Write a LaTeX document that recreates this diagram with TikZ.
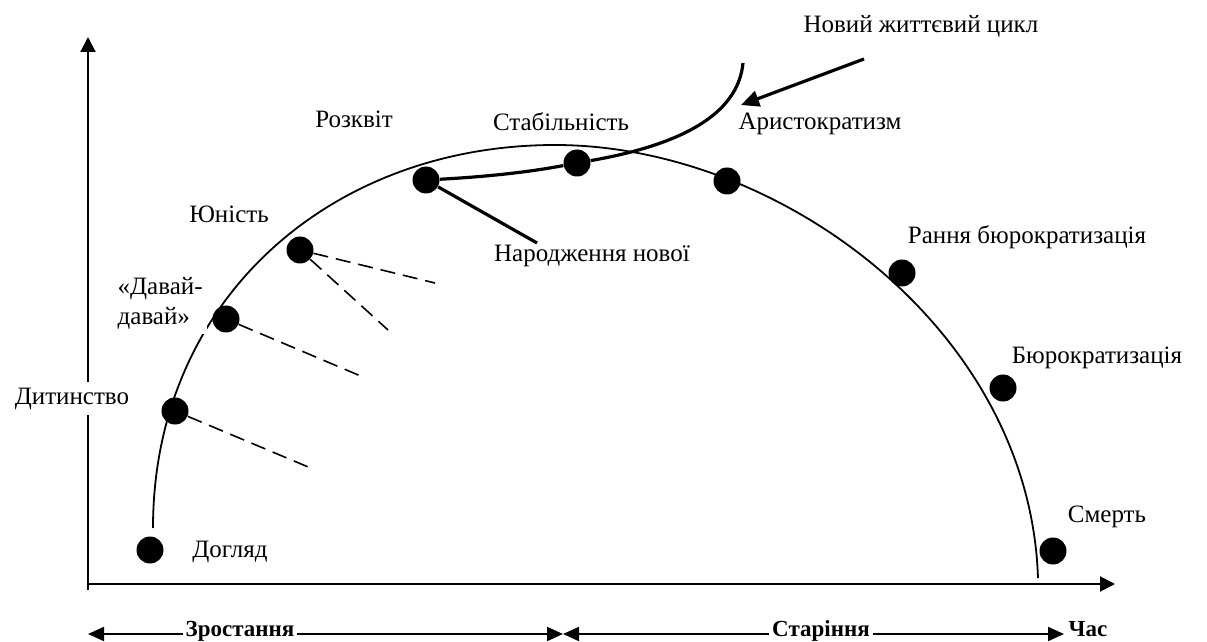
\documentclass[tikz,border=0pt]{standalone}
\usepackage{fontspec}
\setmainfont{Liberation Serif}
\usetikzlibrary{arrows.meta}
\begin{document}
\begin{tikzpicture}[x=0.5pt,y=-0.5pt,
    dot/.style={circle,fill=black,inner sep=0pt,minimum size=13.5pt},
    lbl/.style={anchor=base,inner sep=1pt,font=\fontsize{12.5}{15.5}\selectfont},
    phase/.style={anchor=base,fill=white,inner sep=1.5pt,font=\fontsize{11.5}{14}\selectfont\bfseries},
    axis/.style={line width=1pt,-{Triangle[length=7.5pt,width=7.5pt]}},
    span/.style={line width=1pt,{Triangle[length=8pt,width=7pt]}-{Triangle[length=8pt,width=7pt]}},
    dashline/.style={line width=0.8pt,dash pattern=on 7.5pt off 4pt},
    heavy/.style={line width=1.6pt}]
        \useasboundingbox (0,0) rectangle (1207,642);
        % axes
        \coordinate (yBot) at (88,590);
        \coordinate (yTop) at (88,37);
        \coordinate (xBeg) at (88,584);
        \coordinate (xEnd) at (1115,584);
        \draw[axis] (yBot) -- (yTop);
        \draw[axis] (xBeg) -- (xEnd);
        % life cycle curve
        \draw[line width=0.9pt] (153,528) .. controls (153,300) and (330,145) .. (555,145)
              .. controls (780,145) and (1030,330) .. (1038,578);
        % labels
        \node[lbl,fill=white,inner sep=3pt] (childT) at (72,404) {Дитинство};
        \node[lbl,fill=white,inner sep=2pt,align=left,anchor=base east] (gogoT) at (207,325) {«Давай-\\давай»};
        \node[lbl] (careT) at (230,557) {Догляд};
        \node[lbl] (youthT) at (229,223) {Юність};
        \node[lbl] (primeT) at (354,128) {Розквіт};
        \node[lbl] (stableT) at (561,131) {Стабільність};
        \node[lbl] (aristoT) at (820,130) {Аристократизм};
        \node[lbl] (earlyburT) at (1027,244) {Рання бюрократизація};
        \node[lbl] (burT) at (1097,364) {Бюрократизація};
        \node[lbl] (deathT) at (1107,523) {Смерть};
        \node[lbl] (birthT) at (592,262) {Народження нової};
        \node[lbl] (newT) at (921,33) {Новий життєвий цикл};
        % stages
        \node[dot] (care) at (150,550) {};
        \node[dot] (child) at (175,411) {};
        \node[dot] (gogo) at (226,319) {};
        \node[dot] (youth) at (300,250) {};
        \node[dot] (prime) at (426,180) {};
        \node[dot] (stable) at (577,163) {};
        \node[dot] (aristo) at (727,181) {};
        \node[dot] (earlybur) at (902,273) {};
        \node[dot] (bur) at (1003,388) {};
        \node[dot] (death) at (1053,551) {};
        % dashed branches
        \coordinate (childEnd) at (313,469);
        \coordinate (gogoEnd) at (363,377);
        \coordinate (youthEndA) at (435,283);
        \coordinate (youthEndB) at (388,330);
        \draw[dashline] (child) -- (childEnd);
        \draw[dashline] (gogo) -- (gogoEnd);
        \draw[dashline] (youth) -- (youthEndA);
        \draw[dashline] (youth) -- (youthEndB);
        % new cycle
        \coordinate (birthEnd) at (537,243);
        \coordinate (newTop) at (743,63);
        \coordinate (newFrom) at (864,59);
        \coordinate (newTip) at (741,105);
        \draw[heavy] (prime) -- (birthEnd);
        \draw[heavy] (prime) .. controls (500,176) and (540,170) .. (stable)
              .. controls (680,145) and (738,115) .. (newTop);
        \draw[heavy,-{Triangle[length=9pt,width=8pt]}] (newFrom) -- (newTip);
        % phases
        \coordinate (g0) at (88,634);
        \coordinate (g1) at (563,634);
        \coordinate (g2) at (1064,634);
        \draw[span] (g1) -- (g0);
        \draw[span] (g1) -- (g2);
        \node[phase] (grow) at (240,636) {Зростання};
        \node[phase] (age) at (821,636) {Старіння};
        \node[phase,fill=none] (time) at (1088,636) {Час};
\end{tikzpicture}
\end{document}
